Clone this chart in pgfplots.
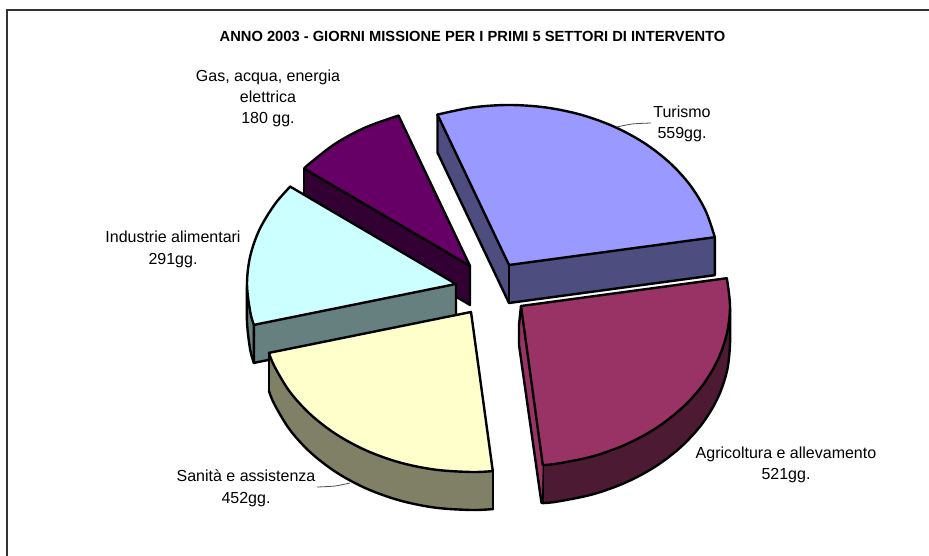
\documentclass[border=0pt]{standalone}
\usepackage{fontspec}
\setmainfont{Liberation Sans}
\usepackage{pgfplots}
\pgfplotsset{compat=1.18}
\definecolor{tutop}{HTML}{9999FF}\definecolor{tuside}{HTML}{4D4D80}
\definecolor{agtop}{HTML}{993366}\definecolor{agside}{HTML}{4D1A33}
\definecolor{satop}{HTML}{FFFFCC}\definecolor{saside}{HTML}{808066}
\definecolor{intop}{HTML}{CCFFFF}\definecolor{inside}{HTML}{668080}
\definecolor{gatop}{HTML}{660066}\definecolor{gaside}{HTML}{330033}
\pgfplotsset{
  face/.style={fill=#1,draw=none,forget plot},
  edge/.style={draw=black,line width=2.4pt,line join=round,line cap=round,no marks,sharp plot,fill=none,forget plot},
  curve/.style={draw=black,line width=2.4pt,line cap=round,no marks,smooth,tension=0.55,fill=none,forget plot},
}
\newcommand{\lab}[3]{\node[anchor=base,inner sep=0pt,font=\fontsize{16pt}{18pt}\selectfont] at (axis cs:#1,#2) {#3};}
\begin{document}
\begin{tikzpicture}
\useasboundingbox (0,0) rectangle (929pt,556pt);
\begin{axis}[at={(0,0)},anchor=south west,scale only axis,width=929pt,height=556pt,
  xmin=0,xmax=929,ymin=0,ymax=556,y dir=reverse,hide axis,clip=false]
% frame
\addplot[draw=black!80,line width=1.5pt,no marks,forget plot] coordinates {(7,556)(7,10)(929,10)};
% --- Gas
\addplot[face=gaside] coordinates {(304.2,168.6)(470,266)(470,305)(304.2,207.6)} --cycle;
\addplot[edge] coordinates {(304.2,168.6)(304.2,207.6)};
\addplot[edge] coordinates {(470,266)(470,305)(440,287)};
\addplot[face=gatop] coordinates {(470,266)(398.5,115.6)(365.5,127.4)(335.7,143.4)(309.9,163.2)(304.2,168.6)} --cycle;
\addplot[edge] coordinates {(398.5,115.6)(470,266)(304.2,168.6)};
\addplot[curve] coordinates {(398.5,115.6)(365.5,127.4)(335.7,143.4)(309.9,163.2)(304.2,168.6)};
% --- Industrie
\addplot[face=inside] coordinates {(247,284)(250.2,311.8)(253.9,324.9)(456,284)(456,322)(253.9,362.9)(250.2,349.8)(247,322)} --cycle;
\addplot[edge] coordinates {(253.9,324.9)(253.9,362.9)(456,322)(456,284)};
\addplot[curve] coordinates {(247,284)(247,322)(250.2,349.8)(253.9,362.9)};
\addplot[face=intop] coordinates {(456,284)(290.2,186.6)(275,204)(259.6,229.3)(250.2,256.2)(247,284)(250.2,311.8)(253.9,324.9)} --cycle;
\addplot[edge] coordinates {(290.2,186.6)(456,284)(253.9,324.9)};
\addplot[curve] coordinates {(290.2,186.6)(275,204)(259.6,229.3)(250.2,256.2)(247,284)(250.2,311.8)(253.9,324.9)};
% --- Sanita
\addplot[face=saside] coordinates {(268.9,352.9)(274.6,366.7)(290,392)(310.9,414.8)(336.7,434.6)(366.5,450.6)(399.5,462.4)(434.7,469.6)(471,472)(492.8,471.1)(492.8,509.1)(471,510)(434.7,507.6)(399.5,500.4)(366.5,488.6)(336.7,472.6)(310.9,452.8)(290,430)(274.6,404.7)(268.9,390.9)} --cycle;
\addplot[edge] coordinates {(268.9,352.9)(268.9,390.9)};
\addplot[edge] coordinates {(492.8,471.1)(492.8,509.1)};
\addplot[curve] coordinates {(268.9,390.9)(274.6,404.7)(290,430)(310.9,452.8)(336.7,472.6)(366.5,488.6)(399.5,500.4)(434.7,507.6)(471,510)(492.8,509.1)};
\addplot[face=satop] coordinates {(471,312)(268.9,352.9)(274.6,366.7)(290,392)(310.9,414.8)(336.7,434.6)(366.5,450.6)(399.5,462.4)(434.7,469.6)(471,472)(492.8,471.1)} --cycle;
\addplot[edge] coordinates {(268.9,352.9)(471,312)(492.8,471.1)};
\addplot[curve] coordinates {(268.9,352.9)(274.6,366.7)(290,392)(310.9,414.8)(336.7,434.6)(366.5,450.6)(399.5,462.4)(434.7,469.6)(471,472)(492.8,471.1)};
% --- Turismo
\addplot[face=tuside] coordinates {(437.5,114.6)(509,265)(714.8,237.2)(714.8,275.2)(509,303)(437.5,152.6)} --cycle;
\addplot[edge] coordinates {(437.5,114.6)(437.5,152.6)(509,303)(714.8,275.2)(714.8,237.2)};
\addplot[edge] coordinates {(509,265)(509,303)};
\addplot[face=tutop] coordinates {(509,265)(437.5,114.6)(472.7,107.4)(509,105)(545.3,107.4)(580.5,114.6)(613.5,126.4)(643.3,142.4)(669.1,162.2)(690,185)(705.4,210.3)(714.8,237.2)} --cycle;
\addplot[edge] coordinates {(437.5,114.6)(509,265)(714.8,237.2)};
\addplot[curve] coordinates {(437.5,114.6)(472.7,107.4)(509,105)(545.3,107.4)(580.5,114.6)(613.5,126.4)(643.3,142.4)(669.1,162.2)(690,185)(705.4,210.3)(714.8,237.2)};
% --- Agricoltura
\addplot[face=agside] coordinates {(730,306)(726.8,333.8)(717.4,360.7)(702,386)(681.1,408.8)(655.3,428.6)(625.5,444.6)(592.5,456.4)(557.3,463.6)(542.8,465.1)(542.8,503.1)(557.3,501.6)(592.5,494.4)(625.5,482.6)(655.3,466.6)(681.1,446.8)(702,424)(717.4,398.7)(726.8,371.8)(730,344)} --cycle;
\addplot[edge] coordinates {(542.8,465.1)(542.8,503.1)};
\addplot[curve] coordinates {(730,306)(730,344)(726.8,371.8)(717.4,398.7)(702,424)(681.1,446.8)(655.3,466.6)(625.5,482.6)(592.5,494.4)(557.3,501.6)(542.8,503.1)};
\addplot[face=agtop] coordinates {(521,306)(519,325)(519,345)(541.5,503)(542.8,465.1)} --cycle;
\addplot[edge] coordinates {(521,306)(519,325)(519,345)(541.5,503)};
\addplot[face=agtop] coordinates {(521,306)(726.8,278.2)(730,306)(726.8,333.8)(717.4,360.7)(702,386)(681.1,408.8)(655.3,428.6)(625.5,444.6)(592.5,456.4)(557.3,463.6)(542.8,465.1)} --cycle;
\addplot[edge] coordinates {(726.8,278.2)(521,306)(542.8,465.1)};
\addplot[curve] coordinates {(726.8,278.2)(730,306)(726.8,333.8)(717.4,360.7)(702,386)(681.1,408.8)(655.3,428.6)(625.5,444.6)(592.5,456.4)(557.3,463.6)(542.8,465.1)};
% leader lines
\addplot[draw=black!70,line width=0.8pt,no marks,smooth,forget plot] coordinates {(617,127)(632,124)(651,123)};
\addplot[draw=black!70,line width=0.8pt,no marks,smooth,forget plot] coordinates {(317,487)(335,486)(350,483)};
% text
\node[anchor=base,inner sep=0pt,font=\fontsize{14.7pt}{16pt}\selectfont\bfseries] at (axis cs:472.5,42) {ANNO 2003 - GIORNI MISSIONE PER I PRIMI 5 SETTORI DI INTERVENTO};
\lab{268}{82}{Gas, acqua, energia}
\lab{268}{103}{elettrica}
\lab{268}{124}{180 gg.}
\lab{682}{118}{Turismo}
\lab{682}{139}{559gg.}
\lab{786}{458}{Agricoltura e allevamento}
\lab{786}{479}{521gg.}
\lab{246}{481}{Sanità e assistenza}
\lab{246}{503}{452gg.}
\lab{173}{243}{Industrie alimentari}
\lab{173}{264}{291gg.}
\end{axis}
\end{tikzpicture}
\end{document}
